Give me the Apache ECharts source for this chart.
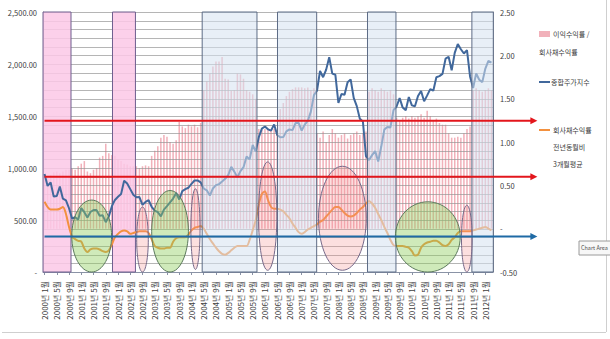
<!DOCTYPE html>
<html><head><meta charset="utf-8">
<script src="https://cdn.jsdelivr.net/npm/echarts@6/dist/echarts.min.js"></script>
<style>html,body{margin:0;padding:0;background:#fff}#c{width:610px;height:339px}</style>
</head><body><div id="c"></div>
<script>
// ---- data ----
const startYear = 2000;
const monthCount = 147; // 2000년 1월 .. 2012년 3월
const categories = [];
for (let k = 0; k < monthCount; k++) {
  categories.push((startYear + Math.floor(k / 12)) + '년 ' + (k % 12 + 1) + '월');
}
const leftTicks = [0, 500, 1000, 1500, 2000, 2500];
const rightTicks = [-0.5, 0, 0.5, 1, 1.5, 2, 2.5];

// 종합주가지수 (left axis)
const kospi = [
  943, 828, 861, 725, 731, 821, 705, 688, 613, 514, 526, 504,
  615, 575, 523, 577, 596, 595, 541, 545, 479, 535, 633, 693,
  723, 749, 877, 850, 797, 743, 718, 721, 646, 674, 690, 627,
  591, 575, 535, 600, 634, 670, 706, 760, 697, 778, 796, 810,
  848, 880, 881, 862, 803, 785, 735, 803, 835, 845, 870, 896,
  932, 1011, 965, 911, 970, 1008, 1111, 1083, 1221, 1158, 1297, 1379,
  1399, 1372, 1359, 1419, 1317, 1295, 1297, 1352, 1371, 1364, 1432, 1434,
  1360, 1417, 1453, 1542, 1701, 1743, 1933, 1873, 1946, 2065, 1907, 1897,
  1625, 1712, 1704, 1825, 1852, 1674, 1595, 1474, 1448, 1113, 1076, 1124,
  1162, 1063, 1206, 1369, 1395, 1390, 1557, 1591, 1673, 1581, 1555, 1683,
  1602, 1594, 1693, 1741, 1641, 1698, 1759, 1743, 1873, 1883, 1905, 2051,
  2069, 1939, 2107, 2192, 2142, 2101, 2133, 1880, 1770, 1909, 1848, 1826,
  1956, 2030, 2014
];
// 이익수익률 / 회사채수익률 (right axis, bars)
const ratio = [
  0.62, 0.60, 0.62, 0.65, 0.66, 0.64, 0.66, 0.68, 0.68, 0.69, 0.68, 0.72,
  0.75, 0.78, 0.66, 0.64, 0.68, 0.70, 0.82, 0.84, 0.98, 0.87, 0.85, 0.84,
  0.80, 0.78, 0.75, 0.74, 0.72, 0.72, 0.72, 0.70, 0.72, 0.73, 0.72, 0.84,
  0.90, 0.95, 1.05, 1.08, 1.06, 1.00, 0.98, 1.02, 1.23, 1.18, 1.16, 1.20,
  1.18, 1.20, 1.17, 1.22, 1.60, 1.70, 1.79, 1.87, 1.93, 1.93, 1.98, 1.73,
  1.72, 1.59, 1.60, 1.79, 1.78, 1.73, 1.60, 1.58, 1.55, 1.50, 1.15, 1.14,
  1.15, 1.16, 1.13, 1.15, 1.14, 1.38, 1.45, 1.53, 1.58, 1.61, 1.63, 1.63,
  1.63, 1.62, 1.63, 1.60, 1.62, 1.10, 1.05, 1.12, 1.00, 1.08, 1.15, 1.10,
  1.05, 1.08, 1.10, 1.04, 1.08, 1.10, 1.12, 1.08, 1.10, 1.12, 1.58, 1.62,
  1.60, 1.58, 1.62, 1.60, 1.58, 1.60, 1.55, 1.28, 1.25, 1.28, 1.30, 1.27,
  1.30, 1.28, 1.30, 1.32, 1.28, 1.36, 1.30, 1.25, 1.27, 1.22, 1.20, 1.20,
  1.10, 1.05, 1.05, 1.06, 1.05, 1.10, 1.15, 1.18, 1.60, 1.62, 1.60, 1.58,
  1.60, 1.62, 1.60
];
// 회사채수익률 전년동월비 3개월평균 (right axis)
const bondYoY = [
  0.31, 0.25, 0.22, 0.22, 0.22, 0.23, 0.25, 0.17, 0.02, -0.09, -0.12, -0.14,
  -0.15, -0.23, -0.27, -0.24, -0.23, -0.23, -0.24, -0.26, -0.27, -0.25, -0.18, -0.10,
  -0.06, -0.03, -0.02, -0.03, -0.06, -0.05, -0.04, -0.03, -0.03, -0.03, -0.05, -0.12,
  -0.20, -0.22, -0.23, -0.23, -0.22, -0.22, -0.15, -0.11, -0.10, -0.10, -0.10, -0.07,
  -0.02, 0.01, 0.02, 0.03, 0.00, -0.06, -0.12, -0.17, -0.22, -0.26, -0.29, -0.30,
  -0.28, -0.25, -0.22, -0.20, -0.20, -0.20, -0.20, -0.13, -0.02, 0.10, 0.28, 0.40,
  0.43, 0.33, 0.25, 0.23, 0.23, 0.22, 0.20, 0.16, 0.12, 0.06, 0.01, -0.04,
  -0.06, -0.04, -0.01, 0.01, 0.03, 0.05, 0.08, 0.10, 0.14, 0.18, 0.22, 0.25,
  0.25, 0.22, 0.18, 0.15, 0.14, 0.15, 0.18, 0.22, 0.25, 0.29, 0.32, 0.29,
  0.24, 0.17, 0.10, 0.02, -0.05, -0.13, -0.19, -0.20, -0.20, -0.20, -0.21, -0.22,
  -0.26, -0.31, -0.30, -0.22, -0.18, -0.16, -0.15, -0.14, -0.14, -0.16, -0.19, -0.20,
  -0.18, -0.13, -0.10, -0.05, -0.03, -0.03, -0.03, -0.03, -0.02, -0.01, 0.00, 0.01,
  0.02, 0.00, -0.02
];

// annotations, in data units (month index, axis values)
const pinkBands = [[-0.5, 8.65], [22.2, 29.7]];
const blueBands = [[51.5, 69.4], [76.1, 88.9], [105.5, 114.8], [139.6, 146.6]];
const greenEllipses = [[8.9, 21.9, 0.33, -0.5], [35.0, 47.0, 0.44, -0.5], [114.6, 135.8, 0.31, -0.5]];
const pinkEllipses = [[30.1, 33.9, 0.25, -0.5], [47.8, 50.8, 0.46, -0.47], [69.9, 75.9, 0.77, -0.48], [89.5, 105.1, 0.72, -0.48], [136.2, 139.7, 0.27, -0.5]];
const redLevels = [1.245, 0.60];
const blueLevels = [-0.09];
const arrowSpan = [0, 161];
const gridStep = 0.1;

// ---- chart ----
const FONT = '"Noto Sans CJK KR", "Liberation Sans", sans-serif';
const chart = echarts.init(document.getElementById('c'), null, { renderer: 'svg' });

function fmtLeft(v) {
  if (v === 0) return '-';
  const s = v.toFixed(2).split('.');
  return s[0].replace(/\B(?=(\d{3})+(?!\d))/g, ',') + '.' + s[1];
}
function fmtRight(v) { return Math.abs(v) < 1e-9 ? '-' : v.toFixed(2); }

chart.setOption({
  animation: false,
  backgroundColor: '#ffffff',
  grid: { left: 43, right: 117, top: 12, bottom: 67 },
  xAxis: {
    type: 'category', data: categories, boundaryGap: true,
    axisLine: { show: true, lineStyle: { color: '#8a93a6', width: 1 } },
    axisTick: { show: true, interval: 3, length: 3, alignWithLabel: true, lineStyle: { color: '#8a93a6' } },
    axisLabel: { interval: 3, rotate: 90, fontSize: 8, margin: 9, color: '#404040', fontFamily: FONT }
  },
  yAxis: [
    {
      type: 'value', min: leftTicks[0], max: leftTicks[leftTicks.length - 1], interval: 500,
      axisLine: { show: true, lineStyle: { color: '#9a9a9a' } },
      axisTick: { show: false },
      splitLine: { show: false },
      axisLabel: { formatter: fmtLeft, fontSize: 7.5, margin: 6, color: '#404040', fontFamily: FONT }
    },
    {
      type: 'value', min: rightTicks[0], max: rightTicks[rightTicks.length - 1], interval: 0.5,
      position: 'right',
      axisLine: { show: true, lineStyle: { color: '#9a9a9a' } },
      axisTick: { show: false },
      splitLine: { show: false },
      axisLabel: { formatter: fmtRight, fontSize: 7.5, margin: 7, color: '#404040', fontFamily: FONT }
    }
  ],
  series: [
    { name: '이익수익률 / 회사채수익률', type: 'bar', yAxisIndex: 1, data: ratio, barWidth: '50%',
      itemStyle: { color: '#f1b1ba' }, z: 2, silent: true },
    { name: '종합주가지수', type: 'line', yAxisIndex: 0, data: kospi, symbol: 'none',
      lineStyle: { color: '#41689c', width: 2 }, z: 5, silent: true },
    { name: '회사채수익률 전년동월비 3개월평균', type: 'line', yAxisIndex: 1, data: bondYoY, symbol: 'none', smooth: 0.3,
      lineStyle: { color: '#f3913f', width: 2 }, z: 5, silent: true }
  ]
});

// overlay, positioned through the chart's own scales
const x0 = chart.convertToPixel({ xAxisIndex: 0 }, 0);
const step = chart.convertToPixel({ xAxisIndex: 0 }, 1) - x0;
const X = f => x0 + f * step;
const YR = v => chart.convertToPixel({ yAxisIndex: 1 }, v);
const YL = v => chart.convertToPixel({ yAxisIndex: 0 }, v);
const yTop = YL(leftTicks[leftTicks.length - 1]);
const yBot = YL(leftTicks[0]);
const gLeft = X(-0.5), gRight = X(monthCount - 0.5);

const g = [];
// horizontal gridlines every 0.1 of the right scale
const nGrid = Math.round((rightTicks[rightTicks.length - 1] - rightTicks[0]) / gridStep);
for (let k = 1; k <= nGrid; k++) {
  const y = Math.round(YR(rightTicks[0] + k * gridStep));
  g.push({ type: 'rect', z: 2.5, silent: true, shape: { x: gLeft, y: y, width: gRight - gLeft, height: 1 },
    style: { fill: 'rgba(150,150,150,0.7)' } });
}
pinkBands.forEach(b => g.push({ type: 'rect', z: 3, silent: true,
  shape: { x: X(b[0]), y: yTop, width: X(b[1]) - X(b[0]), height: yBot - yTop },
  style: { fill: 'rgba(252,200,230,0.85)', stroke: '#6f5f8f', lineWidth: 1 } }));
blueBands.forEach(b => g.push({ type: 'rect', z: 8, silent: true,
  shape: { x: X(b[0]), y: yTop, width: X(b[1]) - X(b[0]), height: yBot - yTop },
  style: { fill: 'rgba(214,226,241,0.55)', stroke: '#5d6c86', lineWidth: 1 } }));
greenEllipses.forEach(e => { const y1 = YR(e[2]), y2 = YR(e[3]);
  g.push({ type: 'ellipse', z: 9, silent: true,
    shape: { cx: (X(e[0]) + X(e[1])) / 2, cy: (y1 + y2) / 2, rx: (X(e[1]) - X(e[0])) / 2, ry: (y2 - y1) / 2 },
    style: { fill: 'rgba(140,204,90,0.42)', stroke: '#5c7a5c', lineWidth: 1 } }); });
pinkEllipses.forEach(e => { const y1 = YR(e[2]), y2 = YR(e[3]);
  g.push({ type: 'ellipse', z: 9, silent: true,
    shape: { cx: (X(e[0]) + X(e[1])) / 2, cy: (y1 + y2) / 2, rx: (X(e[1]) - X(e[0])) / 2, ry: (y2 - y1) / 2 },
    style: { fill: 'rgba(244,140,140,0.28)', stroke: '#76698a', lineWidth: 1 } }); });
function arrow(v, color) {
  const y = YR(v), xa = X(arrowSpan[0]), xb = X(arrowSpan[1]);
  g.push({ type: 'line', z: 12, silent: true, shape: { x1: xa, y1: y, x2: xb - 6, y2: y },
    style: { stroke: color, lineWidth: 2 } });
  g.push({ type: 'polygon', z: 12, silent: true, shape: { points: [[xb - 7, y - 3.5], [xb, y], [xb - 7, y + 3.5]] },
    style: { fill: color } });
}
redLevels.forEach(v => arrow(v, '#e3161c'));
blueLevels.forEach(v => arrow(v, '#1f6aa5'));

// legend
const LF = '7px ' + FONT;
g.push({ type: 'rect', z: 20, silent: true, shape: { x: 539, y: 31, width: 11, height: 6 }, style: { fill: '#f1b1ba' } });
g.push({ type: 'text', z: 20, silent: true, style: { text: '이익수익률 /', x: 553, y: 34, font: LF, fill: '#404040', verticalAlign: 'middle' } });
g.push({ type: 'text', z: 20, silent: true, style: { text: '회사채수익률', x: 539, y: 52, font: LF, fill: '#404040', verticalAlign: 'middle' } });
g.push({ type: 'line', z: 20, silent: true, shape: { x1: 539, y1: 82, x2: 550, y2: 82 }, style: { stroke: '#41689c', lineWidth: 2 } });
g.push({ type: 'text', z: 20, silent: true, style: { text: '종합주가지수', x: 551, y: 82, font: LF, fill: '#404040', verticalAlign: 'middle' } });
g.push({ type: 'line', z: 20, silent: true, shape: { x1: 539, y1: 130, x2: 550, y2: 130 }, style: { stroke: '#f3913f', lineWidth: 2 } });
g.push({ type: 'text', z: 20, silent: true, style: { text: '회사채수익률', x: 553, y: 130, font: LF, fill: '#404040', verticalAlign: 'middle' } });
g.push({ type: 'text', z: 20, silent: true, style: { text: '전년동월비', x: 553, y: 147, font: LF, fill: '#404040', verticalAlign: 'middle' } });
g.push({ type: 'text', z: 20, silent: true, style: { text: '3개월평균', x: 553, y: 164, font: LF, fill: '#404040', verticalAlign: 'middle' } });

// chart-area frame and hover tip
g.push({ type: 'rect', z: 20, silent: true, shape: { x: 606, y: 0, width: 1, height: 332 }, style: { fill: '#cfcfcf' } });
g.push({ type: 'rect', z: 20, silent: true, shape: { x: 2, y: 332, width: 604, height: 1 }, style: { fill: '#cfcfcf' } });
g.push({ type: 'rect', z: 20, silent: true, shape: { x: 579, y: 241, width: 40, height: 14 }, style: { fill: '#f7f7f7', stroke: '#9a9a9a', lineWidth: 1 } });
g.push({ type: 'text', z: 21, silent: true, style: { text: 'Chart Area', x: 581, y: 248, font: '5.5px ' + FONT, fill: '#505050', verticalAlign: 'middle' } });

chart.setOption({ graphic: g });
</script>
</body></html>
